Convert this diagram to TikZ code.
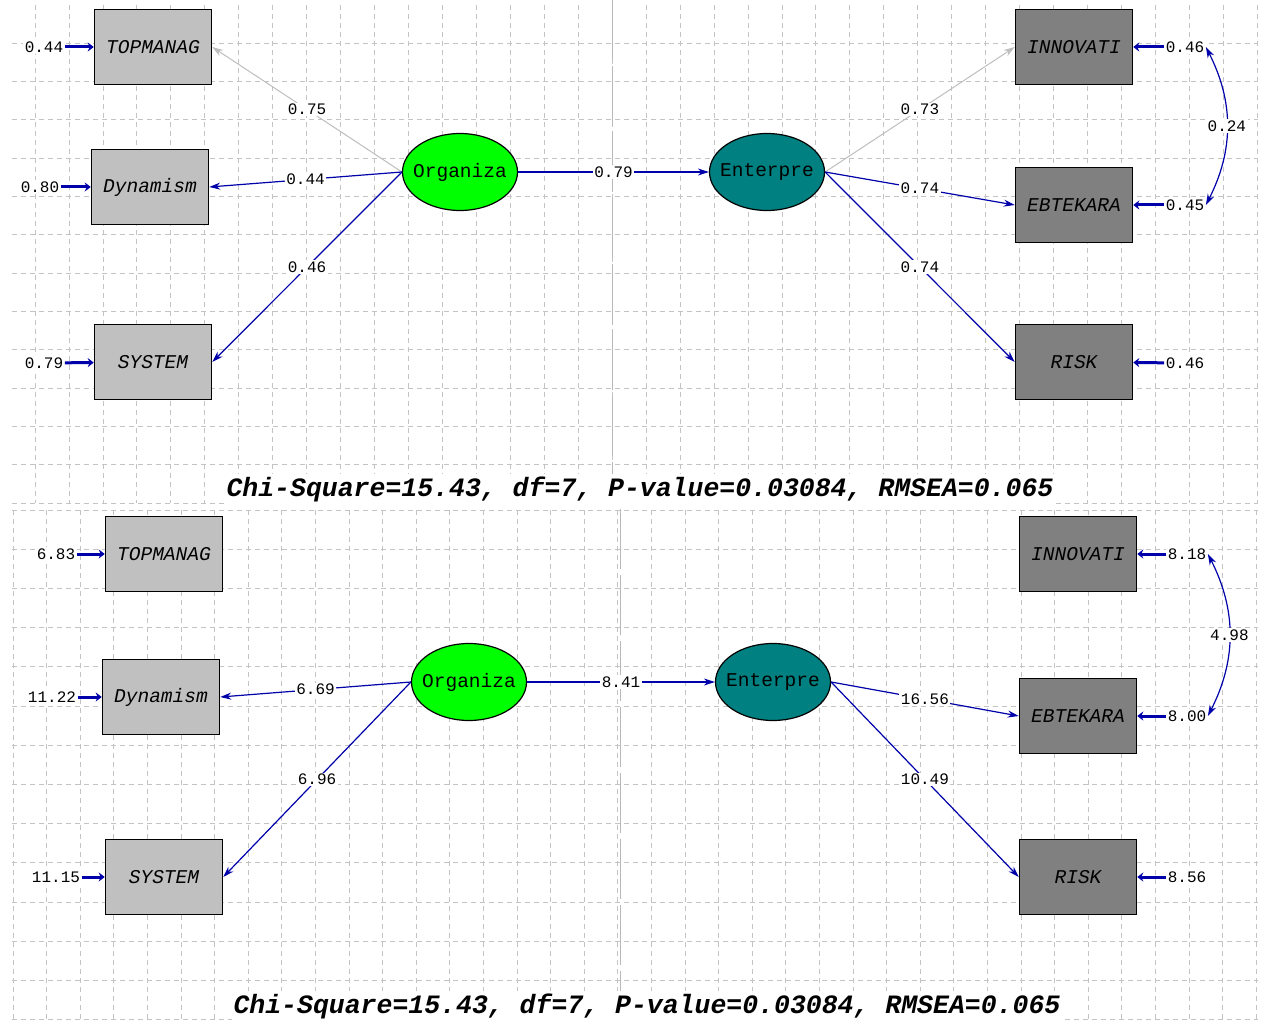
\documentclass[tikz,border=0pt]{standalone}
\usepackage{fontspec}
\setmonofont{Liberation Mono}
\usetikzlibrary{shapes.geometric,arrows.meta}
\definecolor{lisblue}{RGB}{0,0,170}
\definecolor{lisgrid}{RGB}{196,196,196}
\definecolor{boxlight}{RGB}{192,192,192}
\definecolor{boxdark}{RGB}{128,128,128}
\definecolor{latgreen}{RGB}{0,255,0}
\definecolor{latteal}{RGB}{0,128,128}
\definecolor{fixgray}{RGB}{190,190,190}

\tikzset{
  obsbox/.style={draw=black, line width=1.5pt, minimum width=117pt, minimum height=75pt,
    inner sep=0pt, font=\ttfamily\itshape\fontsize{19.5}{20}\selectfont},
  latent/.style={ellipse, draw=black, line width=1.2pt, minimum width=115pt, minimum height=77pt,
    inner ysep=0pt, inner xsep=-16pt, font=\ttfamily\fontsize{19.5}{20}\selectfont},
  numlab/.style={font=\ttfamily\fontsize{16}{16}\selectfont, inner sep=1.5pt, fill=white},
  pathline/.style={draw=lisblue, line width=1.2pt, -{Stealth[length=11pt,width=7pt]}},
  fixline/.style={pathline, draw=fixgray, line width=1pt},
  corrline/.style={draw=lisblue, line width=1.2pt,
    {Stealth[length=11pt,width=7pt]}-{Stealth[length=11pt,width=7pt]}},
  errarrow/.style={draw=lisblue, line width=3pt, -{Stealth[length=6pt,width=9pt]}},
  gridline/.style={draw=lisgrid, line width=0.8pt, dash pattern=on 5pt off 4pt},
  midline/.style={draw=gray!55, line width=1pt, dash pattern=on 60pt off 6pt},
  fitline/.style={font=\ttfamily\bfseries\itshape\fontsize{26.5}{27}\selectfont,
    fill=white, inner sep=2pt}
}

\begin{document}
\begin{tikzpicture}[x=1pt,y=-1pt]
\fill[white] (0,0) rectangle (1262,1022);
\useasboundingbox (0,0) rectangle (1262,1022);

% Grid, upper panel
\foreach \k in {0,...,36} \draw[gridline] ({35+33.95*\k},5) -- ({35+33.95*\k},503);
\foreach \k in {0,...,12} \draw[gridline] (12,{43+38.33*\k}) -- (1258,{43+38.33*\k});
\draw[midline] (612,0) -- (612,503);

% Grid, lower panel
\foreach \k in {0,...,37} \draw[gridline] ({13+33.6*\k},510) -- ({13+33.6*\k},1020);
\foreach \k in {0,...,13} \draw[gridline] (12,{510+39.2*\k}) -- (1258,{510+39.2*\k});
\draw[midline] (620,509) -- (620,1020);

% ---------- Upper panel: standardized solution ----------
\node[obsbox, fill=boxlight] (topA) at (153,47) {TOPMANAG};
\node[obsbox, fill=boxlight] (dynA) at (150,187) {Dynamism};
\node[obsbox, fill=boxlight] (sysA) at (153,362) {SYSTEM};
\node[latent, fill=latgreen] (orgA) at (460,172) {Organiza};
\node[latent, fill=latteal] (entA) at (767,172) {Enterpre};
\node[obsbox, fill=boxdark] (innA) at (1074,47) {INNOVATI};
\node[obsbox, fill=boxdark] (ebtA) at (1074,205) {EBTEKARA};
\node[obsbox, fill=boxdark] (riskA) at (1074,362) {RISK};

% error variances
\node[numlab] (eTopA) at (44,47) {0.44};
\node[numlab] (eDynA) at (40,187) {0.80};
\node[numlab] (eSysA) at (44,363) {0.79};
\node[numlab] (eInnA) at (1185,47) {0.46};
\node[numlab] (eEbtA) at (1185,205) {0.45};
\node[numlab] (eRiskA) at (1185,363) {0.46};
\draw[errarrow] (eTopA) -- (topA);
\draw[errarrow] (eDynA) -- (dynA);
\draw[errarrow] (eSysA) -- (sysA);
\draw[errarrow] (eInnA) -- (innA);
\draw[errarrow] (eEbtA) -- (ebtA);
\draw[errarrow] (eRiskA) -- (riskA);

% loadings
\draw[fixline] (orgA.west) -- node[numlab] {0.75} (topA.east);
\draw[pathline] (orgA.west) -- node[numlab] {0.44} (dynA.east);
\draw[pathline] (orgA.west) -- node[numlab] {0.46} (sysA.east);
\draw[pathline] (orgA.east) -- node[numlab] {0.79} (entA.west);
\draw[fixline] (entA.east) -- node[numlab] {0.73} (innA.west);
\draw[pathline] (entA.east) -- node[numlab] {0.74} (ebtA.west);
\draw[pathline] (entA.east) -- node[numlab] {0.74} (riskA.west);
\draw[corrline] (eInnA.east) to[bend left=27] node[numlab] {0.24} (eEbtA.east);

\node[fitline] (fitA) at (640,489) {Chi-Square=15.43, df=7, P-value=0.03084, RMSEA=0.065};

% ---------- Lower panel: t-values ----------
\node[obsbox, fill=boxlight] (topB) at (164,554) {TOPMANAG};
\node[obsbox, fill=boxlight] (dynB) at (161,697) {Dynamism};
\node[obsbox, fill=boxlight] (sysB) at (164,877) {SYSTEM};
\node[latent, fill=latgreen] (orgB) at (469,682) {Organiza};
\node[latent, fill=latteal] (entB) at (773,682) {Enterpre};
\node[obsbox, fill=boxdark] (innB) at (1078,554) {INNOVATI};
\node[obsbox, fill=boxdark] (ebtB) at (1078,716) {EBTEKARA};
\node[obsbox, fill=boxdark] (riskB) at (1078,877) {RISK};

% error variances
\node[numlab] (eTopB) at (56,554) {6.83};
\node[numlab] (eDynB) at (52,697) {11.22};
\node[numlab] (eSysB) at (56,877) {11.15};
\node[numlab] (eInnB) at (1187,554) {8.18};
\node[numlab] (eEbtB) at (1187,716) {8.00};
\node[numlab] (eRiskB) at (1187,877) {8.56};
\draw[errarrow] (eTopB) -- (topB);
\draw[errarrow] (eDynB) -- (dynB);
\draw[errarrow] (eSysB) -- (sysB);
\draw[errarrow] (eInnB) -- (innB);
\draw[errarrow] (eEbtB) -- (ebtB);
\draw[errarrow] (eRiskB) -- (riskB);

% loadings
\draw[pathline] (orgB.west) -- node[numlab] {6.69} (dynB.east);
\draw[pathline] (orgB.west) -- node[numlab] {6.96} (sysB.east);
\draw[pathline] (orgB.east) -- node[numlab] {8.41} (entB.west);
\draw[pathline] (entB.east) -- node[numlab] {16.56} (ebtB.west);
\draw[pathline] (entB.east) -- node[numlab] {10.49} (riskB.west);
\draw[corrline] (eInnB.east) to[bend left=27] node[numlab] {4.98} (eEbtB.east);

\node[fitline] (fitB) at (647,1006) {Chi-Square=15.43, df=7, P-value=0.03084, RMSEA=0.065};
\end{tikzpicture}
\end{document}
